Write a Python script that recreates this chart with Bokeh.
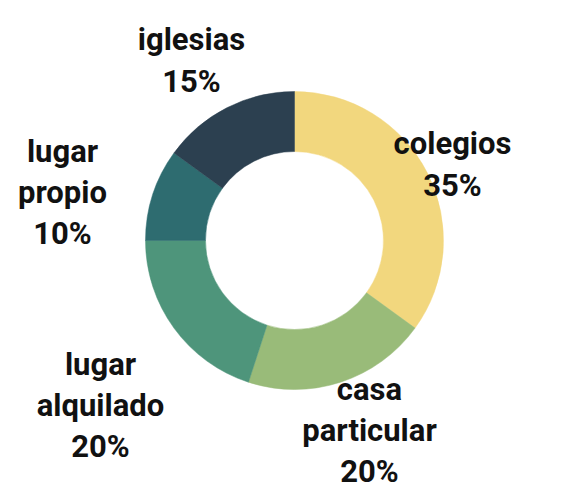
import math
from bokeh.plotting import figure
from bokeh.models import Range1d, ColumnDataSource
from bokeh.core.properties import value
from bokeh.embed import file_html
from bokeh.resources import INLINE

# ---- data ----
categories = ["colegios", "casa\nparticular", "lugar\nalquilado", "lugar\npropio", "iglesias"]
percentages = [35, 20, 20, 10, 15]
colors = ["#F2D77E", "#99BB79", "#4E957B", "#2E6C70", "#2C4050"]

# ---- layout (pixel positions, y measured from top) ----
W, H = 567, 494
cx, cy_top = 294, 240
r_out, r_in = 149, 89
label_pos_top = [(452, 164), (369, 430), (100, 405), (62, 192), (191, 60)]

total = float(sum(percentages))
starts, ends = [], []
cum = 0.0
for v in percentages:
    starts.append(math.pi / 2 - cum / total * 2 * math.pi)
    cum += v
    ends.append(math.pi / 2 - cum / total * 2 * math.pi)

src = ColumnDataSource(dict(start=starts, end=ends, color=colors,
                            x=[cx] * len(percentages), y=[H - cy_top] * len(percentages)))

p = figure(width=W, height=H, x_range=Range1d(0, W), y_range=Range1d(0, H),
           output_backend="svg", toolbar_location=None, min_border=0)
p.axis.visible = False
p.grid.visible = False
p.outline_line_color = None
p.background_fill_color = "white"
p.border_fill_color = "white"

p.annular_wedge(x="x", y="y", inner_radius=r_in, outer_radius=r_out,
                start_angle="start", end_angle="end", direction="clock",
                fill_color="color", line_color="color", line_width=0.5, source=src)

labels = [f"{c}\n{v}%" for c, v in zip(categories, percentages)]
lsrc = ColumnDataSource(dict(x=[lp[0] for lp in label_pos_top],
                             y=[H - lp[1] for lp in label_pos_top],
                             text=labels))
p.text(x="x", y="y", text="text", source=lsrc, text_align="center",
       text_baseline="middle", text_font=value("Roboto"),
       text_font_size="31px", text_font_style="bold", text_color="#111111",
       text_line_height=1.12)

open("out.html", "w").write(file_html(p, INLINE))
